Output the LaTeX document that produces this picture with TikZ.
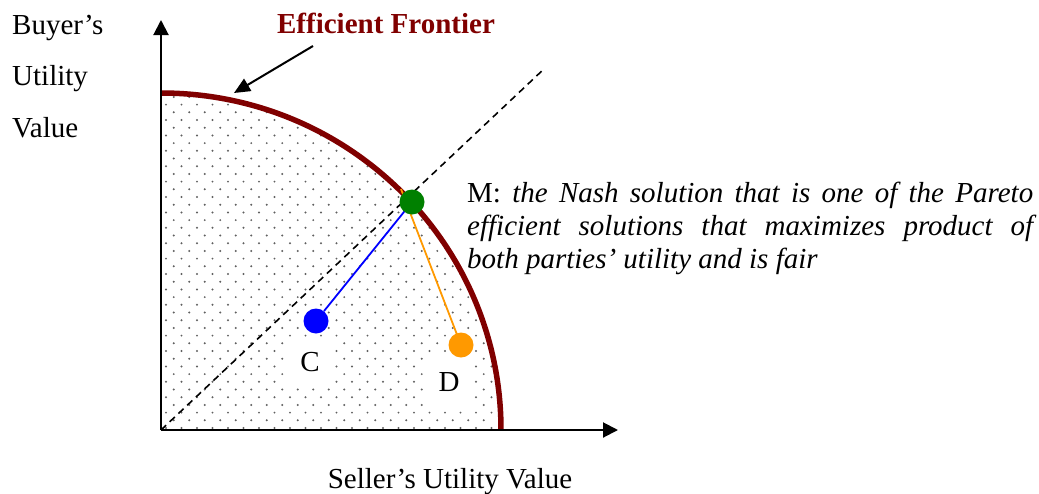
\documentclass[tikz,border=0pt]{standalone}
\usepackage{fontspec}
\setmainfont{Liberation Serif}
\usetikzlibrary{arrows.meta}
\definecolor{frontred}{RGB}{128,0,0}
\definecolor{mgreen}{RGB}{0,128,0}
\definecolor{cblue}{RGB}{0,0,255}
\definecolor{dorange}{RGB}{255,153,0}
\begin{document}
\begin{tikzpicture}[x=1pt,y=-1pt,
  lbl/.style={inner sep=0pt,font=\fontsize{29}{33}\selectfont},
  axis/.style={line width=2pt,-{Triangle[length=15pt,width=15pt]}},
  ptnode/.style={circle,inner sep=0pt,minimum size=25pt},
  whitelbl/.style={fill=white,inner sep=0pt,minimum width=46pt,minimum height=46pt,lbl}
]
\useasboundingbox (0,0) rectangle (1039,493);
% dotted region
\begin{scope}
  \clip (161,430) -- (501,430) arc[start angle=0,end angle=90,x radius=340pt,y radius=337pt] -- cycle;
  \foreach \k in {0,...,44}{
    \pgfmathsetmacro{\yy}{428-7.7*\k}
    \pgfmathsetmacro{\off}{mod(\k,2)*7.75}
    \foreach \j in {0,...,22}{
      \fill[gray!75!black] (166+\off+15.5*\j,\yy) circle[radius=1.1pt];
    }
  }
\end{scope}
% frontier
\coordinate (Ftop) at (161,93);
\draw[frontred,line width=5.5pt] (Ftop) arc[start angle=90,end angle=0,x radius=340pt,y radius=337pt];
% axes
\coordinate (O) at (161,430);
\coordinate (Ytip) at (161,20);
\coordinate (Xtip) at (618,430);
\draw[axis] (O) -- (Ytip);
\draw[axis] (O) -- (Xtip);
% diagonal
\coordinate (Dend) at (545,68);
\draw[line width=1.6pt,dash pattern=on 7pt off 5pt] (O) -- (Dend);
% labels C and D
\node[whitelbl] (Clbl) at (310,362) {C};
\node[whitelbl,minimum width=49pt,minimum height=50pt] (Dlbl) at (449,382) {D};
% points
\coordinate (Mtop) at (401,189);
\node[ptnode,fill=cblue] (C) at (316,321) {};
\node[ptnode,fill=dorange] (D) at (461,345) {};
\draw[cblue,line width=1.8pt] (C) -- (412,202);
\draw[dorange,line width=1.8pt] (D.center) -- (Mtop);
\node[ptnode,fill=mgreen] (M) at (412,202) {};
% axis labels
\node[lbl,anchor=base west] (by) at (12,34) {Buyer’s};
\node[lbl,anchor=base west] (ut) at (12,85) {Utility};
\node[lbl,anchor=base west] (va) at (12,137) {Value};
\node[lbl,anchor=base] (sx) at (450,488) {Seller’s Utility Value};
% efficient frontier label
\node[lbl,anchor=base,text=frontred,font=\fontsize{29}{33}\selectfont\bfseries] (EF) at (386,33) {Efficient Frontier};
\coordinate (EFa) at (313,46);
\coordinate (EFb) at (234,93);
\draw[line width=2pt,-{Triangle[length=16pt,width=14pt]}] (EFa) -- (EFb);
% M description
\node[lbl,anchor=base west,text width=566pt,align=justify] (Mtxt) at (467,202)
  {M: \textit{the Nash solution that is one of the Pareto\linebreak efficient solutions that maximizes product of\linebreak both parties’ utility and is fair}};
\end{tikzpicture}
\end{document}
